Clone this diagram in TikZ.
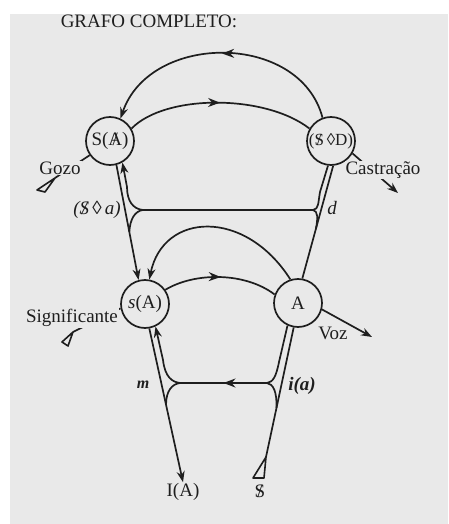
\documentclass[tikz,border=0pt]{standalone}
\usepackage{fontspec}
\setmainfont{Liberation Serif}
\usetikzlibrary{arrows.meta,decorations.markings,calc}
\newcommand{\barS}{\ooalign{S\cr\hidewidth/\hidewidth\cr}}
\newcommand{\barA}{\ooalign{A\cr\hidewidth/\hidewidth\cr}}
\definecolor{page}{HTML}{E9E9E9}
\definecolor{ink}{HTML}{1E1E1E}
\begin{document}
\begin{tikzpicture}[x=1pt,y=-1pt,
  wire/.style={draw=ink, line width=1.7pt, line join=round},
  tip/.style={-{Stealth[length=11pt,width=8pt]}},
  midarrow/.style={postaction=decorate, decoration={markings,
      mark=at position #1 with {\arrow{Stealth[length=12pt,width=9pt]}}}},
  midarrow/.default=0.5,
  vertex/.style={circle, draw=ink, line width=1.7pt, minimum size=48pt,
      inner sep=0pt, font=\fontsize{19}{20}\selectfont, text=ink},
  lbl/.style={font=\fontsize{19}{20}\selectfont, text=ink, inner sep=1pt},
  marker/.style={draw=ink, line width=1.6pt, line join=round}
]
\fill[white] (0,0) rectangle (448,524);
\fill[page] (10,14) rectangle (448,524);
\useasboundingbox (0,0) rectangle (448,524);

% title
\node[lbl] (title) at (149,21) {GRAFO COMPLETO:};

% vertices
\node[vertex] (sa) at (110,141) {S(\barA)};
\node[vertex] (sd) at (331,141) {\fontsize{17}{18}\selectfont(\barS\,◊D)};
\node[vertex] (sA) at (145,304) {\textit{s}(A)};
\node[vertex] (A)  at (298,303) {A};

% junction coordinates
\coordinate (J1) at (143,210);
\coordinate (J2) at (313,210);
\coordinate (J3) at (180,383);
\coordinate (J4) at (267,383);
\coordinate (gz) at (55,178);
\coordinate (cs) at (398,193);
\coordinate (sg) at (73,332);
\coordinate (vz) at (372,337);
\coordinate (st) at (266,457);

% upper arcs
\draw[wire,tip,midarrow] (sd.110) .. controls (300,32) and (150,32) .. (sa.65);
\draw[wire,midarrow] (sa.30) .. controls (165,94) and (265,94) .. (sd.150);

% Gozo and Castracao
\draw[wire] (sa.215) -- (gz);
\draw[marker] (gz) -- (37,190) -- (45,192) -- cycle;
\draw[wire,tip] (sd.-30) -- (cs);

% upper level verticals
\draw[wire,tip] (sa.-75) -- (sA.105);
\draw[wire,tip] (J1) .. controls (133,209) and (127,201) .. (127,187) -- (sa.-60);
\coordinate (M1) at ($(sa.-75)!(129,232)!(sA.105)$);
\draw[wire] (J1) .. controls (135,211) and (130,219) .. (M1);
\draw[wire] (sd.-85) -- (A.80);
\draw[wire] (J2) .. controls (319,209) and (318,203) .. (320,192) -- (sd.-97);
\coordinate (M2) at ($(sd.-85)!(316,229)!(A.80)$);
\draw[wire] (J2) .. controls (318,211) and (318,218) .. (M2);
\draw[wire] (J1) -- (J2);

% lower arcs
\draw[wire,tip] (A.108) .. controls (245,208) and (163,212) .. (sA.80);
\draw[wire,midarrow] (sA.35) .. controls (195,272) and (245,272) .. (A.160);

% Significante and Voz
\draw[wire] (sA.190) -- (sg);
\draw[marker] (sg) -- (62,342) -- (68,346) -- cycle;
\draw[wire,tip] (A.-15) -- (vz);

% lower level verticals
\node[lbl] (IA) at (183,492) {I(A)};
\node[lbl] (dollar) at (260,491) {\barS};
\draw[wire,tip] (sA.-80) -- (IA.north);
\draw[wire,tip] (J3) .. controls (172,382) and (165,377) .. (163,360) -- (sA.-65);
\coordinate (M3) at ($(sA.-80)!(165,405)!(IA.north)$);
\draw[wire] (J3) .. controls (172,384) and (166,391) .. (M3);
\draw[wire] (A.-100) -- (st);
\draw[marker] (st) -- (264,478) -- (253,478) -- cycle;
\draw[wire] (A.-115) -- (279,362) .. controls (276,377) and (273,382) .. (J4);
\coordinate (M4) at ($(A.-100)!(277,408)!(st)$);
\draw[wire] (J4) .. controls (273,384) and (277,391) .. (M4);
\draw[wire,midarrow] (J4) -- (J3);

% labels
\node[lbl,fill=page] (gozo) at (60,168) {Gozo};
\node[lbl,fill=page] (cast) at (383,170) {Castração};
\node[lbl,fill=page] (sig) at (72,318) {Significante};
\node[lbl] (voz) at (333,333) {Voz};
\node[lbl] (sdla) at (97,210) {\itshape(\barS\,◊\,a)};
\node[lbl] (dl) at (332,208) {\itshape d};
\node[lbl] (ml) at (143,385) {\fontsize{16}{17}\selectfont\bfseries\itshape m};
\node[lbl] (ial) at (302,386) {\bfseries\itshape i(a)};
\end{tikzpicture}
\end{document}
